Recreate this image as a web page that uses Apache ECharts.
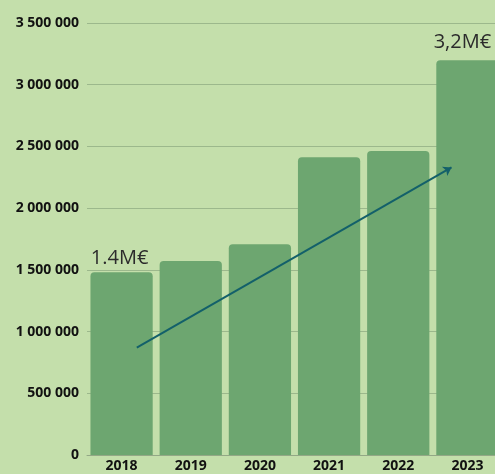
<!DOCTYPE html>
<html lang="fr">
<head>
  <meta charset="UTF-8">
  <title>Chiffre d'affaires</title>
  <script src="https://cdn.jsdelivr.net/npm/echarts@6/dist/echarts.min.js"></script>
  <style>
    html, body { margin: 0; padding: 0; background: #c4dfab; overflow: hidden; }
    #chart { width: 495px; height: 474px; }
  </style>
</head>
<body>
  <div id="chart"></div>
  <script>
    // données
    const years = ['2018', '2019', '2020', '2021', '2022', '2023'];
    const revenue = [1480000, 1572000, 1707000, 2413000, 2462000, 3198000];
    const barNotes = ['1.4M€', '', '', '', '', '3,2M€'];
    const noteGap = [4, 0, 0, 0, 0, 8];
    // flèche de tendance : [position sur l'axe des années, valeur]
    const trendArrow = [[0.72, 870000], [5.27, 2330000]];

    const chart = echarts.init(document.getElementById('chart'), null, { renderer: 'canvas' });

    const fmt = v => String(v).replace(/\B(?=(\d{3})+(?!\d))/g, ' ');

    const barData = revenue.map((v, i) => ({
      value: v,
      label: { show: barNotes[i] !== '', distance: noteGap[i], offset: i === 5 ? [-5, 0] : [-2, 0] }
    }));

    const option = {
      backgroundColor: '#c4dfab',
      animation: false,
      grid: { left: 87, width: 415, top: 23, bottom: 19, outerBoundsMode: 'none', containLabel: false },
      xAxis: [{
        type: 'category',
        data: years,
        axisLine: { show: true, lineStyle: { color: '#93a886', width: 1 } },
        axisTick: { show: false },
        axisLabel: { color: '#111', fontWeight: 'bold', fontSize: 14, fontFamily: 'Open Sans', margin: 4 }
      }, {
        type: 'value',
        min: 0, max: 6,
        show: false
      }],
      yAxis: {
        type: 'value',
        min: 0, max: 3500000, interval: 500000,
        axisLine: { show: false },
        axisTick: { show: false },
        splitLine: { lineStyle: { color: '#9cb88c', width: 1 } },
        axisLabel: {
          color: '#111', fontWeight: 'bold', fontSize: 14, fontFamily: 'Open Sans', margin: 8,
          formatter: fmt
        }
      },
      series: [{
        type: 'bar',
        data: barData,
        barCategoryGap: '10%',
        itemStyle: { color: '#6da670', borderRadius: [4, 4, 0, 0] },
        label: {
          position: 'top',
          color: '#2b2b2b',
          fontSize: 20,
          fontFamily: 'Open Sans',
          fontWeight: 'normal',
          formatter: p => barNotes[p.dataIndex]
        }
      }, {
        type: 'line',
        xAxisIndex: 1,
        data: [],
        markLine: {
          silent: true,
          symbol: ['none', 'arrow'],
          symbolSize: 8,
          label: { show: false },
          lineStyle: { color: '#13606a', width: 2, type: 'solid' },
          data: [[{ coord: trendArrow[0] }, { coord: trendArrow[1] }]]
        }
      }]
    };

    option && chart.setOption(option);
  </script>
</body>
</html>
